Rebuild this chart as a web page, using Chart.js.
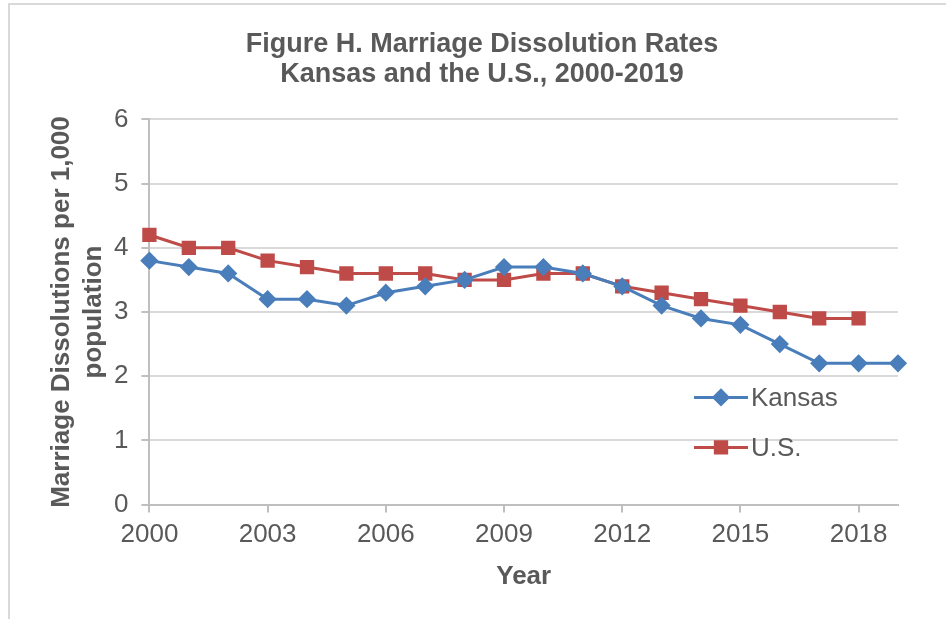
<!DOCTYPE html>
<html>
<head>
<meta charset="utf-8">
<script src="https://cdn.jsdelivr.net/npm/chart.js@4.4.1/dist/chart.umd.min.js"></script>
<style>
  body { margin: 0; background: #fff; }
  #wrap { position: relative; width: 946px; height: 619px; overflow: hidden; }
  #frame { position: absolute; left: 8px; top: 3px; width: 1000px; height: 700px;
           border: 2px solid #d9d9d9; box-sizing: border-box; }
  #myChart { position: absolute; left: 0; top: 0; }
</style>
</head>
<body>
<div id="wrap">
  <div id="frame"></div>
  <canvas id="myChart" width="946" height="619"></canvas>
</div>
<script>
// chart data
var years = ['2000','2001','2002','2003','2004','2005','2006','2007','2008','2009',
             '2010','2011','2012','2013','2014','2015','2016','2017','2018','2019'];
var kansas = [3.8, 3.7, 3.6, 3.2, 3.2, 3.1, 3.3, 3.4, 3.5, 3.7,
              3.7, 3.6, 3.4, 3.1, 2.9, 2.8, 2.5, 2.2, 2.2, 2.2];
var us = [4.2, 4.0, 4.0, 3.8, 3.7, 3.6, 3.6, 3.6, 3.5, 3.5,
          3.6, 3.6, 3.4, 3.3, 3.2, 3.1, 3.0, 2.9, 2.9, null];
var yTicks = [0, 1, 2, 3, 4, 5, 6];

var colorSet = {
	blue: '#4a7ebb',
	red: '#be4b48',
	text: '#595959',
	grid: '#d9d9d9',
	axis: '#bfbfbf'
};
var fontName = '"Liberation Sans", Arial, sans-serif';

// legend drawn inside the plot, bottom right
var innerLegend = {
	id: 'innerLegend',
	afterDraw: function(chart) {
		var ctx = chart.ctx;
		var area = chart.chartArea;
		var x0 = area.right - 204;
		chart.data.datasets.forEach(function(ds, i) {
			var y = area.top + 278 + i * 50;
			ctx.save();
			ctx.strokeStyle = ds.borderColor;
			ctx.lineWidth = 3;
			ctx.beginPath();
			ctx.moveTo(x0, y);
			ctx.lineTo(x0 + 54, y);
			ctx.stroke();
			ctx.fillStyle = ds.pointBackgroundColor;
			ctx.strokeStyle = ds.pointBorderColor;
			Chart.helpers.drawPoint(ctx, {
				pointStyle: ds.pointStyle,
				radius: ds.pointRadius,
				borderWidth: 1
			}, x0 + 27, y);
			ctx.fillStyle = colorSet.text;
			ctx.font = '26px ' + fontName;
			ctx.textBaseline = 'middle';
			ctx.fillText(ds.label, x0 + 57, y + 1);
			ctx.restore();
		});
	}
};

var ctx = document.getElementById('myChart').getContext('2d');
var myChart = new Chart(ctx, {
	type: 'line',
	data: {
		labels: years,
		datasets: [
			{
				label: 'Kansas',
				data: kansas,
				borderColor: colorSet.blue,
				backgroundColor: colorSet.blue,
				pointBackgroundColor: colorSet.blue,
				pointBorderColor: colorSet.blue,
				pointStyle: 'rectRot',
				pointRadius: 7,
				borderWidth: 3,
				tension: 0
			},
			{
				label: 'U.S.',
				data: us,
				borderColor: colorSet.red,
				backgroundColor: colorSet.red,
				pointBackgroundColor: colorSet.red,
				pointBorderColor: colorSet.red,
				pointStyle: 'rect',
				pointRadius: 8,
				borderWidth: 3,
				tension: 0
			}
		]
	},
	options: {
		responsive: false,
		animation: false,
		// extra left padding centres the title; the y title pulls back by the same amount
		layout: { padding: { left: 66, right: 48, bottom: 27, top: 0 } },
		plugins: {
			legend: { display: false },
			tooltip: { enabled: false },
			title: {
				display: true,
				text: ['Figure H. Marriage Dissolution Rates', 'Kansas and the U.S., 2000-2019'],
				color: colorSet.text,
				font: { family: fontName, size: 27, weight: 'bold', lineHeight: 1.1 },
				padding: { top: 30, bottom: 30 }
			}
		},
		scales: {
			x: {
				offset: false,
				grid: {
					drawOnChartArea: false,
					drawTicks: true,
					tickLength: 8,
					color: colorSet.axis,
					lineWidth: 2
				},
				border: { color: colorSet.axis, width: 2 },
				ticks: {
					autoSkip: false,
					maxRotation: 0,
					color: colorSet.text,
					font: { family: fontName, size: 26 },
					padding: 7,
					callback: function(val, i) {
						return i % 3 === 0 ? years[i] : null;
					}
				},
				title: {
					display: true,
					text: 'Year',
					color: colorSet.text,
					font: { family: fontName, size: 26, weight: 'bold' },
					padding: { top: 3, bottom: 0 }
				}
			},
			y: {
				min: yTicks[0],
				max: yTicks[yTicks.length - 1],
				afterBuildTicks: function(axis) {
					axis.ticks = yTicks.map(function(v) { return { value: v }; });
				},
				grid: {
					color: colorSet.grid,
					tickColor: colorSet.axis,
					tickLength: 8,
					lineWidth: 2
				},
				border: { color: colorSet.axis, width: 2 },
				ticks: {
					color: colorSet.text,
					font: { family: fontName, size: 26 },
					padding: 13
				},
				title: {
					display: true,
					text: ['Marriage Dissolutions per 1,000', 'population'],
					color: colorSet.text,
					font: { family: fontName, size: 26, weight: 'bold', lineHeight: 1.23 },
					padding: { top: -20, bottom: -9 }
				}
			}
		}
	},
	plugins: [innerLegend]
});
</script>
</body>
</html>
